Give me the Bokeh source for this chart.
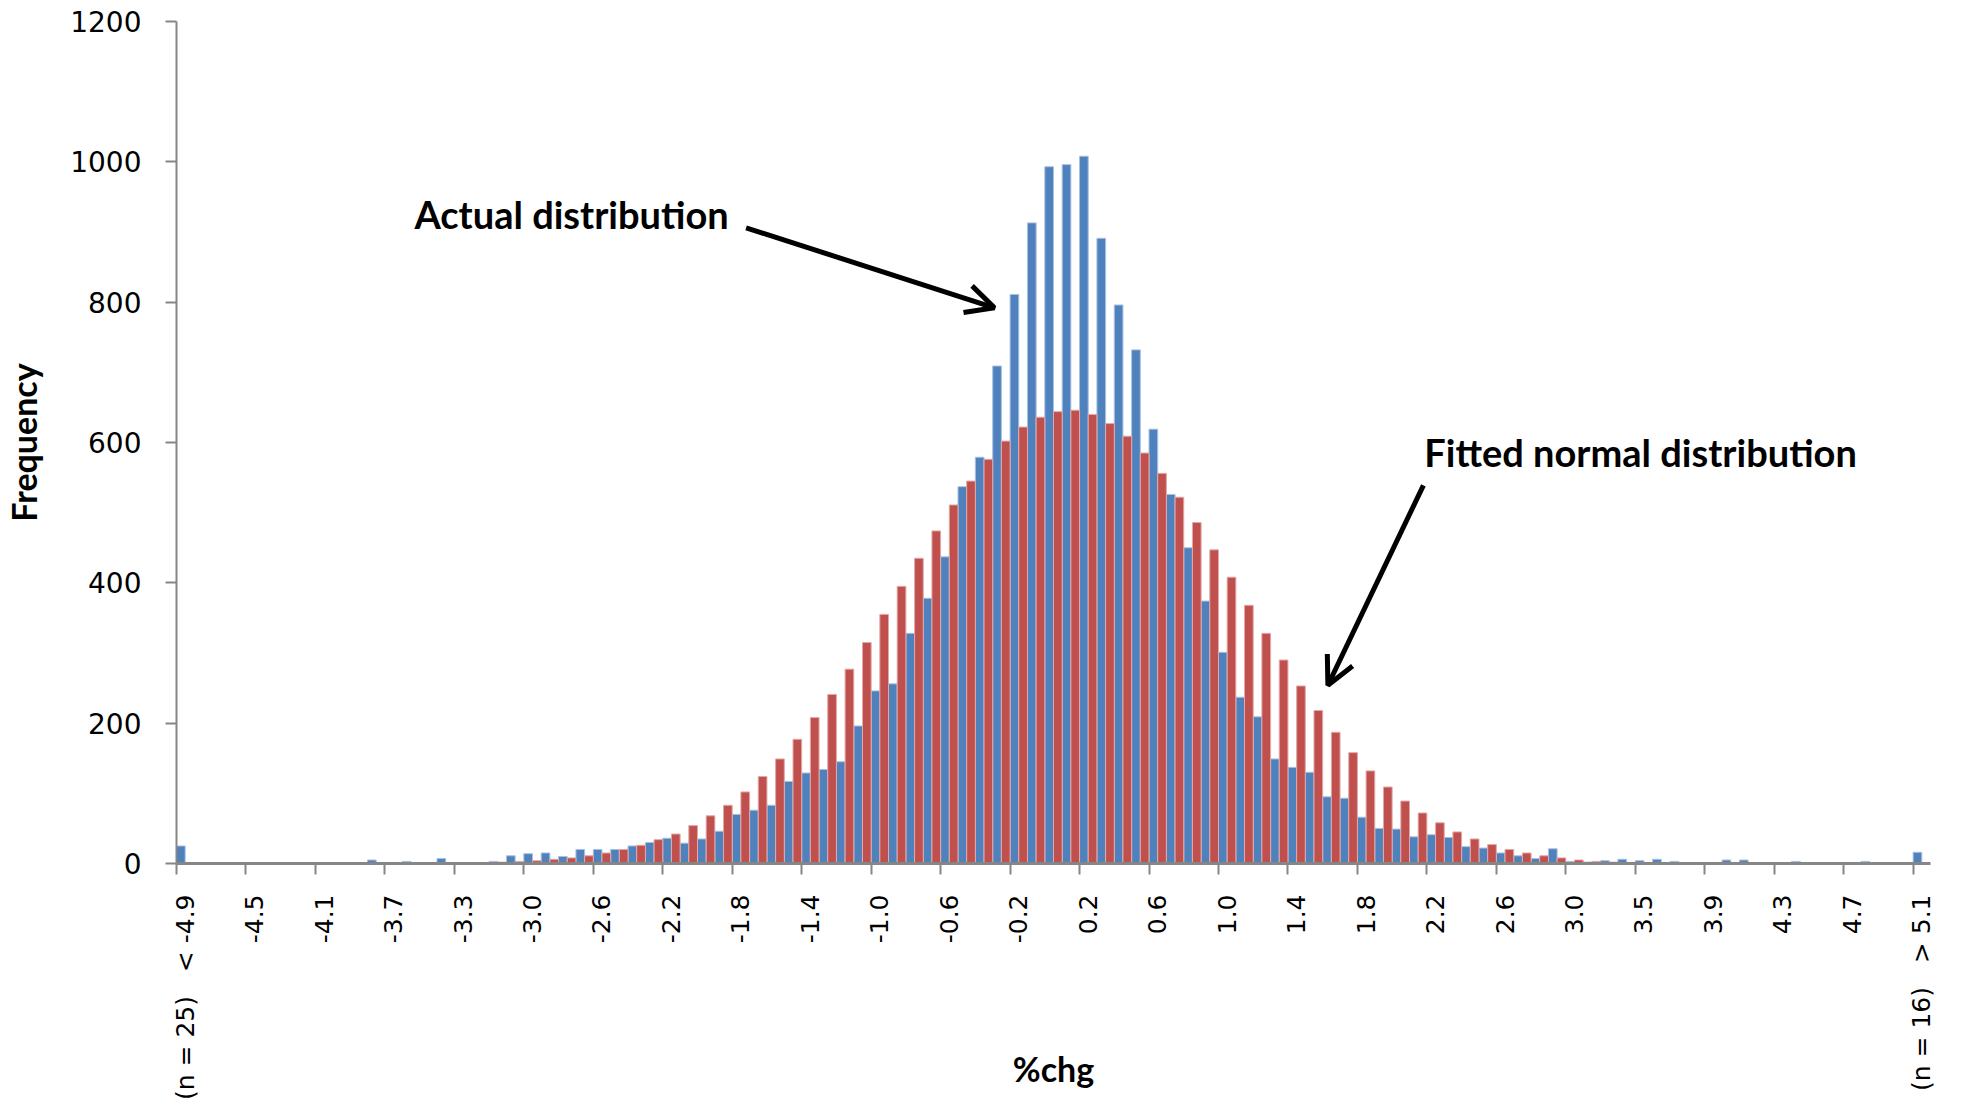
import numpy as np
from bokeh.plotting import figure
from bokeh.models import (Range1d, LinearAxis, FixedTicker, Label, Arrow, OpenHead,
                          ColumnDataSource)
from bokeh.transform import dodge
from bokeh.embed import file_html
from bokeh.resources import INLINE

# ---- data: frequencies per 0.1 %chg bin (first / last bins are open tails) ----
actual = [25, 0, 0, 0, 0, 0, 0, 0, 0, 0, 0, 5, 0, 3, 0, 7, 0, 0, 3, 11,
          14, 15, 10, 20, 20, 20, 25, 30, 36, 29,
          35, 46, 70, 76, 83, 117, 129, 134, 145, 196,
          246, 256, 328, 378, 437, 537, 579, 709, 811, 913,
          993, 996, 1008, 891, 796, 732, 619, 526, 450, 374,
          301, 237, 209, 149, 137, 130, 95, 93, 66, 50,
          49, 38, 41, 37, 24, 22, 15, 11, 7, 21,
          3, 2, 4, 6, 4, 6, 3, 0, 0, 5,
          5, 0, 0, 3, 0, 0, 0, 3, 0, 0, 16]

fitted = [0, 0, 0, 0, 0, 0, 0, 0, 0, 0, 0, 0, 0, 0, 0, 0, 0, 1, 2, 3,
          4, 6, 8, 11, 15, 20, 26, 34, 42, 54,
          68, 83, 102, 124, 149, 177, 208, 241, 277, 315,
          355, 395, 435, 474, 511, 545, 576, 602, 622, 636,
          644, 646, 640, 627, 609, 585, 556, 522, 486, 447,
          408, 368, 328, 290, 253, 218, 187, 158, 132, 109,
          89, 72, 58, 45, 35, 27, 20, 15, 11, 8,
          5, 3, 2, 1, 1, 0, 0, 0, 0, 0,
          0, 0, 0, 0, 0, 0, 0, 0, 0, 0, 0]

NB = "\u00a0"
tick_labels = ["(n" + NB + "=" + NB + "25)" + NB * 3 + "<" + NB + "-4.9",
               "-4.5", "-4.1", "-3.7", "-3.3", "-3.0", "-2.6", "-2.2", "-1.8",
               "-1.4", "-1.0", "-0.6", "-0.2", "0.2", "0.6", "1.0", "1.4", "1.8",
               "2.2", "2.6", "3.0", "3.5", "3.9", "4.3", "4.7",
               "(n" + NB + "=" + NB + "16)" + NB * 3 + ">" + NB + "5.1"]
label_step = 4
y_ticks = [0, 200, 400, 600, 800, 1000, 1200]

n = len(actual)
src = ColumnDataSource(dict(x=np.arange(n), actual=actual, fitted=fitted))

p = figure(frame_width=1754, frame_height=842, output_backend="svg", toolbar_location=None,
           x_range=Range1d(-0.5, n - 0.5), y_range=Range1d(0, 1200),
           x_axis_type=None, min_border_left=174, min_border_right=19,
           min_border_top=21, min_border_bottom=236)
p.outline_line_color = None
p.ygrid.visible = False
p.background_fill_color = "white"
p.border_fill_color = "white"

p.vbar(x=dodge("x", -0.25, range=p.x_range), top="actual", width=0.5, bottom=0,
       source=src, fill_color="#4F81BD", line_color="#A9C1E0", line_width=1)
p.vbar(x=dodge("x", 0.25, range=p.x_range), top="fitted", width=0.5, bottom=0,
       source=src, fill_color="#C0504D", line_color="#E2A9A8", line_width=1)

AX = "#868686"
TICKFONT = "DejaVu Sans"
BOLDFONT = "Lato"

# y axis
yax = p.yaxis[0]
yax.ticker = FixedTicker(ticks=y_ticks)
yax.major_label_text_font = TICKFONT
yax.major_label_text_font_size = "28px"
yax.major_label_text_color = "black"
yax.major_tick_out = 11
yax.major_tick_in = 0
yax.minor_tick_out = 0
yax.minor_tick_in = 0
yax.axis_line_color = AX
yax.axis_line_width = 2
yax.major_tick_line_color = AX
yax.major_tick_line_width = 2
yax.major_label_standoff = 24
yax.axis_label = "Frequency"
yax.axis_label_text_font = BOLDFONT
yax.axis_label_text_font_style = "bold"
yax.axis_label_text_font_size = "34px"
yax.axis_label_text_color = "black"
yax.axis_label_standoff = 23

# x axis: tick marks at category boundaries (labels not drawn)
tick_axis = LinearAxis(ticker=FixedTicker(ticks=[b - 0.5 for b in range(0, n, label_step)]),
                       major_label_text_font_size="1px", major_label_text_color=None,
                       major_label_standoff=0,
                       major_tick_out=11, major_tick_in=0, minor_tick_out=0, minor_tick_in=0,
                       axis_line_color=AX, axis_line_width=3,
                       major_tick_line_color=AX, major_tick_line_width=2)
# x axis: labels centred on categories, plus the axis title
label_ticks = list(range(0, n, label_step))
label_axis = LinearAxis(ticker=FixedTicker(ticks=label_ticks),
                        major_label_overrides={t: lab for t, lab in zip(label_ticks, tick_labels)},
                        major_tick_out=0, major_tick_in=0, minor_tick_out=0, minor_tick_in=0,
                        axis_line_color=None, major_tick_line_color=None,
                        major_label_orientation=np.pi / 2, major_label_standoff=20,
                        major_label_text_font=TICKFONT, major_label_text_font_size="25px",
                        major_label_text_color="black",
                        axis_label="%chg", axis_label_text_font=BOLDFONT,
                        axis_label_text_font_style="bold", axis_label_text_font_size="34px",
                        axis_label_text_color="black", axis_label_standoff=-55)
p.add_layout(tick_axis, "below")
p.add_layout(label_axis, "below")

# annotations
p.add_layout(Label(x=13.2, y=926, text="Actual distribution", text_align="left",
                   text_baseline="middle", text_font=BOLDFONT, text_font_style="bold",
                   text_font_size="38px", text_color="black"))
p.add_layout(Label(x=71.35, y=587, text="Fitted normal distribution", text_align="left",
                   text_baseline="middle", text_font=BOLDFONT, text_font_style="bold",
                   text_font_size="38px", text_color="black"))
p.add_layout(Arrow(end=OpenHead(size=28, line_width=5, line_color="black"),
                   x_start=32.3, y_start=906, x_end=46.6, y_end=792,
                   line_width=5, line_color="black"))
p.add_layout(Arrow(end=OpenHead(size=28, line_width=5, line_color="black"),
                   x_start=71.3, y_start=539, x_end=65.8, y_end=254,
                   line_width=5, line_color="black"))

open("out.html", "w").write(file_html(p, INLINE))
